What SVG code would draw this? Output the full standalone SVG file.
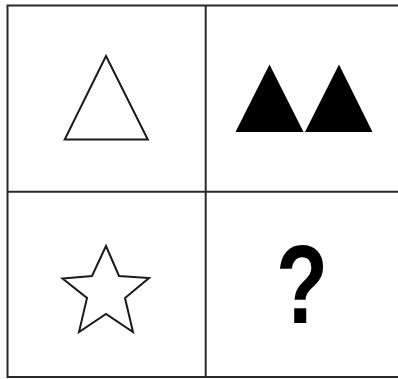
<svg xmlns="http://www.w3.org/2000/svg" width="398" height="379" viewBox="0 0 398 379">
<style>
.grid{fill:none;stroke:#2a2a2a;stroke-width:2}
.outline{fill:#fff;stroke:#1a1a1a;stroke-width:2;stroke-linejoin:miter}
.solid{fill:#000;stroke:none}
.q{font-family:"Liberation Sans",Arial,sans-serif;font-weight:bold;font-size:112px;fill:#000}
</style>
<rect width="398" height="379" fill="#fff"/>
<g id="connectors">
<rect class="grid" x="7.5" y="5.5" width="400" height="371.5"/>
<line class="grid" x1="205.7" y1="5" x2="205.7" y2="378"/>
<line class="grid" x1="7" y1="191.7" x2="398" y2="191.7"/>
</g>
<g id="cell-triangle">
<polygon class="outline" points="106,56 147.8,139.5 64.7,139.5"/>
</g>
<g id="cell-two-triangles">
<polygon class="solid" points="269.5,64.5 303.5,132 235.5,132"/>
<polygon class="solid" points="339,64.5 372.5,132 305,132"/>
</g>
<g id="cell-star">
<polygon class="outline" points="106,246 119,276 149,278 125,298 133,332 106,314 79,332 87,298 62.5,278.5 92,276"/>
</g>
<g id="cell-question">
<text class="q" transform="translate(302,323) scale(0.76,1)" text-anchor="middle">?</text>
</g>
</svg>
